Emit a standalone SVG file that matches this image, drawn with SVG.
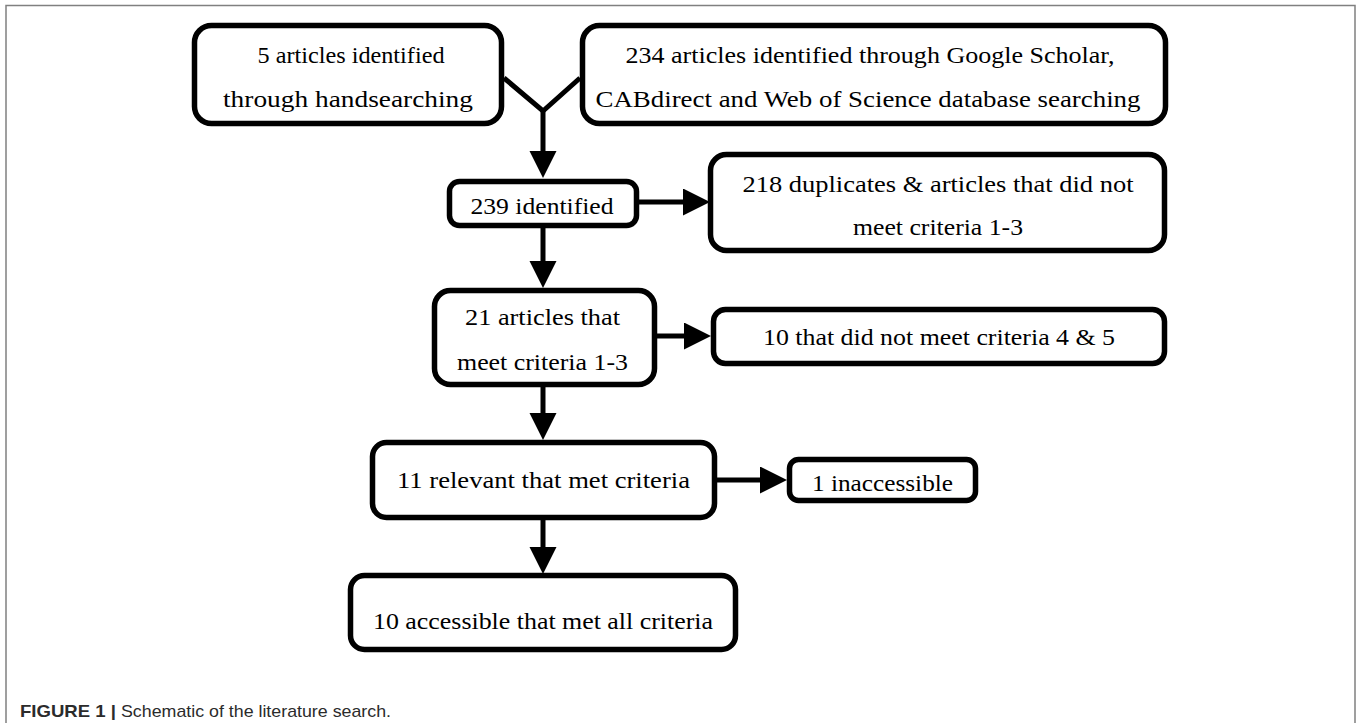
<svg xmlns="http://www.w3.org/2000/svg" width="1357" height="723" viewBox="0 0 1357 723">
  <style>
    .box { fill: #ffffff; stroke: #000000; stroke-width: 5.5; }
    .lbl { font-family: "Liberation Serif", "DejaVu Serif", serif; font-size: 24px; fill: #000000; text-anchor: middle; }
    .conn { fill: none; stroke: #000000; stroke-width: 5; stroke-linejoin: miter; }
    .cap { font-family: "Liberation Sans", Arial, sans-serif; font-size: 17px; fill: #2b2b2b; }
  </style>
  <defs>
    <marker id="arrow" markerUnits="userSpaceOnUse" markerWidth="28" markerHeight="28" refX="0" refY="13.5" orient="auto">
      <path d="M0,0 L27,13.5 L0,27 Z" fill="#000000"/>
    </marker>
  </defs>

  <rect x="0" y="0" width="1357" height="723" fill="#ffffff"/>
  <path d="M6,723 V5.5 H1355 V723" fill="none" stroke="#808080" stroke-width="1.5"/>

  <g id="connectors">
    <path class="conn" d="M504,78 L543,111 L580,78"/>
    <path class="conn" d="M543,110 V151" marker-end="url(#arrow)"/>
    <path class="conn" d="M639,202 H683" marker-end="url(#arrow)"/>
    <path class="conn" d="M543,228 V261" marker-end="url(#arrow)"/>
    <path class="conn" d="M657,336 H684" marker-end="url(#arrow)"/>
    <path class="conn" d="M543,387 V413" marker-end="url(#arrow)"/>
    <path class="conn" d="M717,480 H760" marker-end="url(#arrow)"/>
    <path class="conn" d="M543,520 V547" marker-end="url(#arrow)"/>
  </g>

  <g id="node-handsearch">
    <rect class="box" x="194.5" y="25.5" width="307" height="98" rx="17"/>
    <text class="lbl" x="351" y="63" textLength="187" lengthAdjust="spacingAndGlyphs">5 articles identified</text>
    <text class="lbl" x="348" y="107" textLength="250" lengthAdjust="spacingAndGlyphs">through handsearching</text>
  </g>

  <g id="node-database">
    <rect class="box" x="582.5" y="25.5" width="583" height="98" rx="17"/>
    <text class="lbl" x="870" y="63" textLength="489" lengthAdjust="spacingAndGlyphs">234 articles identified through Google Scholar,</text>
    <text class="lbl" x="868" y="107" textLength="545" lengthAdjust="spacingAndGlyphs">CABdirect and Web of Science database searching</text>
  </g>

  <g id="node-239">
    <rect class="box" x="449.5" y="181.5" width="187" height="44" rx="10"/>
    <text class="lbl" x="542" y="214" textLength="143" lengthAdjust="spacingAndGlyphs">239 identified</text>
  </g>

  <g id="node-218">
    <rect class="box" x="710.5" y="154.5" width="454" height="96" rx="16"/>
    <text class="lbl" x="938" y="192" textLength="391" lengthAdjust="spacingAndGlyphs">218 duplicates &amp; articles that did not</text>
    <text class="lbl" x="938" y="235" textLength="170" lengthAdjust="spacingAndGlyphs">meet criteria 1-3</text>
  </g>

  <g id="node-21">
    <rect class="box" x="434.5" y="290.5" width="220" height="94" rx="16"/>
    <text class="lbl" x="542.5" y="325" textLength="155" lengthAdjust="spacingAndGlyphs">21 articles that</text>
    <text class="lbl" x="542.5" y="370" textLength="171" lengthAdjust="spacingAndGlyphs">meet criteria 1-3</text>
  </g>

  <g id="node-10-not">
    <rect class="box" x="713.5" y="309.5" width="451" height="54" rx="12"/>
    <text class="lbl" x="939" y="345" textLength="352" lengthAdjust="spacingAndGlyphs">10 that did not meet criteria 4 &amp; 5</text>
  </g>

  <g id="node-11">
    <rect class="box" x="372.5" y="442.5" width="342" height="75" rx="14"/>
    <text class="lbl" x="543.5" y="488" textLength="293" lengthAdjust="spacingAndGlyphs">11 relevant that met criteria</text>
  </g>

  <g id="node-1-inaccessible">
    <rect class="box" x="789.5" y="459.5" width="186" height="41" rx="9"/>
    <text class="lbl" x="882.5" y="491" textLength="141" lengthAdjust="spacingAndGlyphs">1 inaccessible</text>
  </g>

  <g id="node-10-accessible">
    <rect class="box" x="350.5" y="575.5" width="385" height="74" rx="14"/>
    <text class="lbl" x="543" y="629" textLength="340" lengthAdjust="spacingAndGlyphs">10 accessible that met all criteria</text>
  </g>

  <text class="cap" x="20" y="717"><tspan font-weight="bold" textLength="96" lengthAdjust="spacingAndGlyphs">FIGURE 1 |</tspan><tspan dx="5" textLength="270" lengthAdjust="spacingAndGlyphs">Schematic of the literature search.</tspan></text>
</svg>
